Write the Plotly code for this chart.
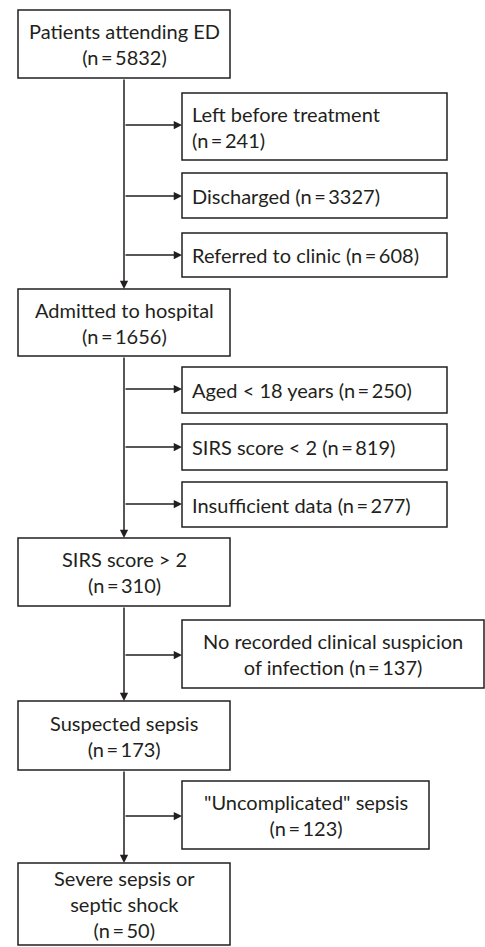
import plotly.graph_objects as go

# ---- data (flow stages and counts) ----
main_labels = ["Patients attending ED", "Admitted to hospital", "SIRS score &gt; 2",
               "Suspected sepsis", "Severe sepsis or<br>septic shock"]
main_counts = [5832, 1656, 310, 173, 50]

side_labels = ["Left before treatment<br>", "Discharged ", "Referred to clinic ",
               "Aged &lt; 18 years ", "SIRS score &lt; 2 ", "Insufficient data ",
               "No recorded clinical suspicion<br>of infection ", "\"Uncomplicated\" sepsis<br>"]
side_counts = [241, 3327, 608, 250, 819, 277, 137, 123]

# ---- layout geometry (pixels, y down) ----
W, H = 485, 947
main_x0, main_x1, spine_x = 18, 230, 124
main_y = [(10, 78), (289, 356), (538, 606), (701, 770), (863, 945)]
side_x0 = 182
side_x1 = [447, 447, 447, 447, 447, 447, 484, 429]
side_y = [(93, 160), (173, 218), (233, 277), (367, 413), (424, 470),
          (482, 527), (620, 688), (781, 849)]
side_arrow_y = [125, 196, 255, 389, 447, 504, 655, 816]
side_align = ["left"] * 6 + ["center", "center"]

FONT = "Lato"
TXT = "#231f20"
LINE = "#231f20"
FS = 20

def n_txt(v):
    return "(n\u2009=\u2009%d)" % v

fig = go.Figure()
shapes = []
annots = []

for (y0, y1), lab, cnt in zip(main_y, main_labels, main_counts):
    shapes.append(dict(type="rect", xref="x", yref="y", x0=main_x0, x1=main_x1,
                       y0=y0, y1=y1, line=dict(color=LINE, width=1.5), fillcolor="white"))
    annots.append(dict(x=(main_x0 + main_x1) / 2, y=(y0 + y1) / 2, xref="x", yref="y",
                       text=lab + "<br>" + n_txt(cnt), showarrow=False,
                       font=dict(family=FONT, size=FS, color=TXT), align="center"))

# vertical spine arrows
for i in range(len(main_y) - 1):
    annots.append(dict(x=spine_x, y=main_y[i + 1][0], ax=spine_x, ay=main_y[i][1],
                       xref="x", yref="y", axref="x", ayref="y", text="",
                       showarrow=True, arrowhead=2, arrowsize=1.1, arrowwidth=1.5,
                       arrowcolor=LINE, standoff=0))

for k, (lab, cnt) in enumerate(zip(side_labels, side_counts)):
    y0, y1 = side_y[k]
    x1 = side_x1[k]
    shapes.append(dict(type="rect", xref="x", yref="y", x0=side_x0, x1=x1,
                       y0=y0, y1=y1, line=dict(color=LINE, width=1.5), fillcolor="white"))
    if side_align[k] == "left":
        annots.append(dict(x=side_x0 + 8, y=(y0 + y1) / 2, xref="x", yref="y",
                           xanchor="left", text=lab + n_txt(cnt), showarrow=False,
                           font=dict(family=FONT, size=FS, color=TXT), align="left"))
    else:
        annots.append(dict(x=(side_x0 + x1) / 2, y=(y0 + y1) / 2, xref="x", yref="y",
                           text=lab + n_txt(cnt), showarrow=False,
                           font=dict(family=FONT, size=FS, color=TXT), align="center"))
    annots.append(dict(x=side_x0, y=side_arrow_y[k], ax=spine_x, ay=side_arrow_y[k],
                       xref="x", yref="y", axref="x", ayref="y", text="",
                       showarrow=True, arrowhead=2, arrowsize=1.1, arrowwidth=1.5,
                       arrowcolor=LINE, standoff=0))

fig.update_layout(
    width=W, height=H, margin=dict(l=0, r=0, t=0, b=0),
    paper_bgcolor="white", plot_bgcolor="white",
    xaxis=dict(range=[0, W], visible=False, fixedrange=True),
    yaxis=dict(range=[H, 0], visible=False, fixedrange=True),
    shapes=shapes, annotations=annots, showlegend=False,
)
fig.write_html("out.html", config={"displayModeBar": False},
               post_script="document.body.style.margin='0';document.body.style.overflow='hidden';")
